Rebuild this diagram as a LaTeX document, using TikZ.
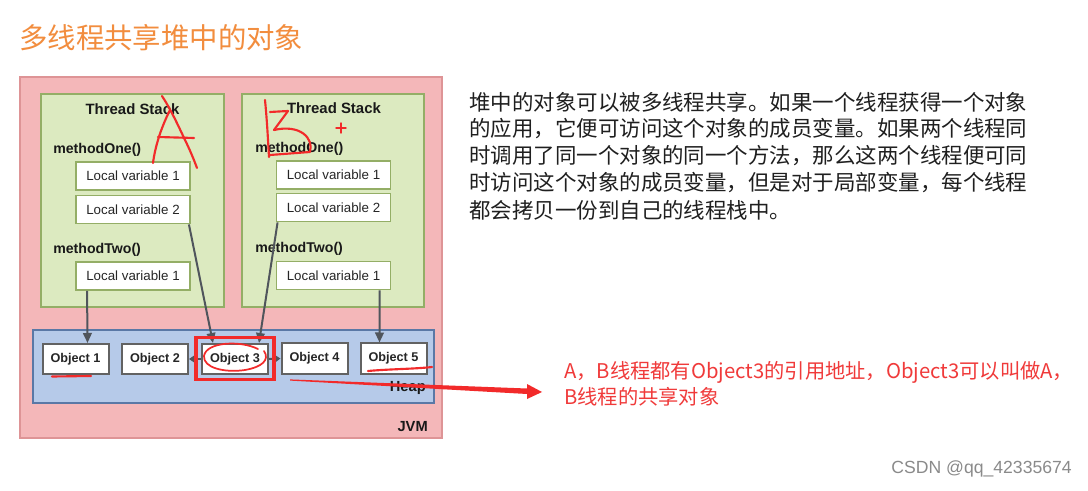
\documentclass[tikz,border=0pt]{standalone}
\usepackage{fontspec}
\setmainfont{Liberation Sans}
\newfontfamily\cjk{Noto Sans CJK SC}
\usetikzlibrary{arrows.meta,calc}
\definecolor{jvmfill}{HTML}{F4B7B9}
\definecolor{jvmline}{HTML}{DE9496}
\definecolor{stkfill}{HTML}{DCEAC0}
\definecolor{stkline}{HTML}{94AE66}
\definecolor{heapfill}{HTML}{B6CAE9}
\definecolor{heapline}{HTML}{5A78A6}
\definecolor{objline}{HTML}{626262}
\definecolor{arrgray}{HTML}{50555C}
\definecolor{titleor}{HTML}{F28D3E}
\definecolor{redmark}{HTML}{F22A2A}
\definecolor{redtext}{HTML}{F03A3A}
\definecolor{wm}{HTML}{8A8A8A}
\tikzset{
  lvbox/.style={draw=stkline, line width=1.4pt, fill=white, minimum width=85.5pt, minimum height=21pt, inner sep=0pt, font=\fontsize{10}{11}\selectfont, text=black!85},
  objbox/.style={draw=objline, line width=1.5pt, fill=white, minimum width=49.5pt, minimum height=22.5pt, inner sep=0pt, font=\bfseries\fontsize{9.5}{11}\selectfont, text=black!85},
  lbl/.style={font=\bfseries\fontsize{10.6}{12}\selectfont, text=black!90, inner sep=0pt},
  conn/.style={draw=arrgray, line width=1.5pt, -{Triangle[length=7.5pt,width=6.5pt]}},
  hand/.style={draw=redmark, line width=1.6pt, line cap=round, line join=round},
  para/.style={font=\cjk\fontsize{16.1}{18}\selectfont, text=black!88, anchor=west, inner sep=0pt},
  redline/.style={font=\cjk\fontsize{15.2}{18}\selectfont, text=redtext, anchor=west, inner sep=0pt}
}
\begin{document}
\begin{tikzpicture}[x=0.75pt,y=-0.75pt]
\useasboundingbox (0,0) rectangle (1088,491);
\fill[white] (0,0) rectangle (1088,491);
% title
\node[font=\cjk\fontsize{21.3}{24}\selectfont, text=titleor, anchor=west, inner sep=0pt] (title) at (19,38) {多线程共享堆中的对象};
% JVM
\draw[fill=jvmfill, draw=jvmline, line width=1.5pt] (20,77) rectangle (442,438);
\node[lbl, font=\bfseries\fontsize{11}{12}\selectfont, anchor=east] (jvm) at (428,427) {JVM};
% thread stacks
\draw[fill=stkfill, draw=stkline, line width=1.4pt] (41,94) rectangle (224,307);
\draw[fill=stkfill, draw=stkline, line width=1.4pt] (242,94) rectangle (424,307);
\node[lbl, font=\bfseries\fontsize{11.2}{12}\selectfont] (tsA) at (132.5,109) {Thread Stack};
\node[lbl, font=\bfseries\fontsize{11.2}{12}\selectfont] (tsB) at (334,108) {Thread Stack};
\node[lbl, anchor=west] (m1A) at (53,150) {methodOne()};
\node[lbl, anchor=west] (m2A) at (53,250) {methodTwo()};
\node[lbl, anchor=west] (m1B) at (255,149) {methodOne()};
\node[lbl, anchor=west] (m2B) at (255,249) {methodTwo()};
\node[lvbox] (lvA1) at (133,176) {Local variable 1};
\node[lvbox] (lvA2) at (133,209.5) {Local variable 2};
\node[lvbox] (lvA3) at (133,276) {Local variable 1};
\node[lvbox] (lvB1) at (333.5,175) {Local variable 1};
\node[lvbox] (lvB2) at (333.5,207.5) {Local variable 2};
\node[lvbox] (lvB3) at (333.5,275.5) {Local variable 1};
% heap
\draw[fill=heapfill, draw=heapline, line width=1.5pt] (33,330) rectangle (434,403);
\node[lbl, font=\bfseries\fontsize{11}{12}\selectfont, anchor=east] (heap) at (426,388) {Heap};
\node[objbox] (o1) at (75.5,359) {Object 1};
\node[objbox] (o2) at (155,359) {Object 2};
\node[objbox] (o3) at (235,359) {Object 3};
\node[objbox] (o4) at (314.5,358.5) {Object 4};
\node[objbox] (o5) at (393.5,358.5) {Object 5};
% connectors
\draw[conn] ($(lvA3.south west)+(12,0)$) -- ($(o1.north west)+(46,0)$);
\draw[conn] ($(lvA2.south east)+(-2,0)$) -- ($(o3.north west)+(12,0)$);
\draw[conn] ($(lvB2.south west)+(2,0)$) -- ($(o3.north east)+(-10,0)$);
\draw[conn] ($(lvB3.south west)+(104,0)$) -- ($(o5.north west)+(20,0)$);
\draw[conn, -{Triangle[length=5pt,width=6.5pt]}] (o3.west) -- (o2.east);
\draw[conn, -{Triangle[length=5pt,width=6.5pt]}] (o3.east) -- (o4.west);
% red annotations
\draw[redmark, line width=2.6pt] (196,337.5) rectangle (274,379.5);
\draw[hand, line width=1.3pt] (258,349) .. controls (240,340) and (206,342) .. (204,356) .. controls (203,368) and (225,373) .. (245,370) .. controls (262,367) and (270,360) .. (264,351);
\draw[hand] (52,376.5) -- (91,376);
\draw[hand] (368,371) .. controls (390,369) and (415,369) .. (432,367);
% hand-drawn A
\draw[hand] (162,96) .. controls (170,108) and (178,125) .. (185,140) .. controls (190,150) and (194,160) .. (197,168);
\draw[hand] (153,163) .. controls (155,148) and (160,130) .. (170,110);
\draw[hand] (158,137) -- (194,138);
% hand-drawn B
\draw[hand] (265,100) .. controls (267,120) and (268,140) .. (269,157);
\draw[hand] (270,112) -- (288,111) -- (274,130);
\draw[hand] (274,130) .. controls (300,124) and (314,138) .. (310,152) -- (270,155);
\draw[hand, line width=1.1pt] (336,128) -- (346,128) (341,123) -- (341,133);
% big red arrow
\coordinate (rs) at (290,380);
\coordinate (rt) at (542,392);
\fill[redmark] ($(rs)+(0,-0.6)$) -- (527,388.5) -- (527,384) -- (rt) -- (527,399) -- (527,394) -- ($(rs)+(0,0.6)$) -- cycle;
% paragraph
\node[para] (p1) at (469,102) {堆中的对象可以被多线程共享。如果一个线程获得一个对象};
\node[para] (p2) at (469,129) {的应用，它便可访问这个对象的成员变量。如果两个线程同};
\node[para] (p3) at (469,156) {时调用了同一个对象的同一个方法，那么这两个线程便可同};
\node[para] (p4) at (469,183) {时访问这个对象的成员变量，但是对于局部变量，每个线程};
\node[para] (p5) at (469,210) {都会拷贝一份到自己的线程栈中。};
% red note
\node[redline] (r1) at (564,372) {A，B线程都有Object3的引用地址，Object3可以叫做A，};
\node[redline] (r2) at (564,397) {B线程的共享对象};
% watermark
\node[font=\fontsize{13.2}{15}\selectfont, text=wm, anchor=east, inner sep=0pt] (wmk) at (1072,469) {CSDN @qq\_42335674};
\end{tikzpicture}
\end{document}
